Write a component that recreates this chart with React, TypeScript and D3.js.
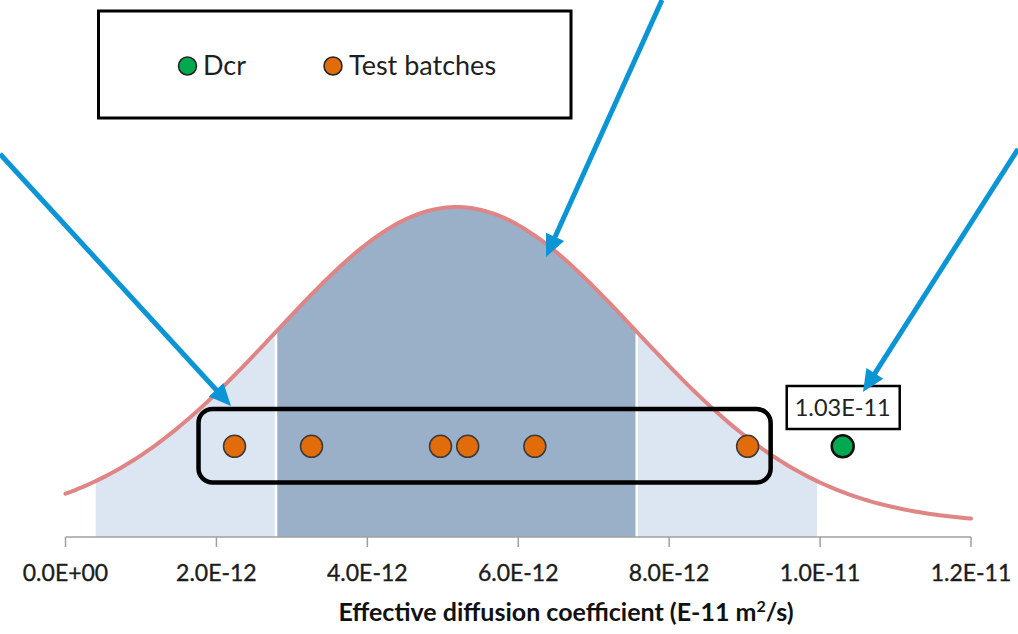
import React from "react";
import * as d3 from "d3";

// Effective diffusion coefficients (m²/s)
const testBatches = [2.24e-12, 3.26e-12, 4.97e-12, 5.33e-12, 6.22e-12, 9.04e-12];
const dcrValues = [1.03e-11];
const dcrLabels = ["1.03E-11"];

// Normal distribution fitted to the diffusion coefficient
const meanD = 5.18e-12;
const sdD = 2.39e-12;

const tickValues = [0, 2e-12, 4e-12, 6e-12, 8e-12, 1e-11, 1.2e-11];
const tickLabels = ["0.0E+00", "2.0E-12", "4.0E-12", "6.0E-12", "8.0E-12", "1.0E-11", "1.2E-11"];

const legendItems = ["Dcr", "Test batches"];

const W = 1018;
const H = 634;
const FONT = "Lato, 'Open Sans', sans-serif";

const BLUE = "#0B95D5";
const ORANGE = "#E36C0A";
const GREEN = "#00A94F";

export default function App() {
  const x = d3.scaleLinear().domain([0, 1.2e-11]).range([65.5, 971]);
  // relative density: 1 = peak; the plot floor sits slightly below zero density
  const y = d3.scaleLinear().domain([-0.041, 1]).range([537, 207]);
  const floor = y(-0.041);

  const rel = (v: number) => Math.exp(-0.5 * ((v - meanD) / sdD) ** 2);
  const sample = (a: number, b: number) => d3.range(0, 201).map((i) => a + ((b - a) * i) / 200);

  const line = d3
    .line<number>()
    .x((d) => x(d))
    .y((d) => y(rel(d)));
  const area = d3
    .area<number>()
    .x((d) => x(d))
    .y0(floor)
    .y1((d) => y(rel(d)));

  const lightBand = sample(meanD - 2 * sdD, meanD + 2 * sdD);
  const darkBand = sample(meanD - sdD, meanD + sdD);
  const curvePts = sample(0, 1.2e-11);

  const dotLevel = 0.245;
  const dotY = y(dotLevel);

  const bx0 = x(d3.min(testBatches)!) - 36;
  const bx1 = x(d3.max(testBatches)!) + 23;

  // annotation arrows: [startX, startY, tipX, tipY]
  const arrows: [number, number, number, number][] = [
    [0, 154, 231, 406],
    [662, 0, 546, 257],
    [1018, 149, 863, 392],
  ];

  const arrowHead = (sx: number, sy: number, tx: number, ty: number) => {
    const ang = Math.atan2(ty - sy, tx - sx);
    const len = 22;
    const half = 10;
    const bxp = tx - len * Math.cos(ang);
    const byp = ty - len * Math.sin(ang);
    const px = -Math.sin(ang) * half;
    const py = Math.cos(ang) * half;
    return {
      pts: `${tx},${ty} ${bxp + px},${byp + py} ${bxp - px},${byp - py}`,
      bx: bxp + 2 * Math.cos(ang),
      by: byp + 2 * Math.sin(ang),
    };
  };

  return (
    <svg
      width={W}
      height={H}
      style={{ position: "absolute", left: 0, top: 0, background: "#fff" }}
      fontFamily={FONT}
    >
      {/* confidence bands */}
      <path d={area(lightBand)!} fill="#DCE6F2" />
      <path d={area(darkBand)!} fill="#9AAFC8" />
      {[meanD - sdD, meanD + sdD].map((v, i) => (
        <line key={i} x1={x(v)} x2={x(v)} y1={y(rel(v))} y2={floor} stroke="#fff" strokeWidth={2.5} />
      ))}

      {/* density curve */}
      <path d={line(curvePts)!} fill="none" stroke="#E08585" strokeWidth={4} strokeLinecap="round" />

      {/* x axis */}
      <line x1={x(0)} x2={x(1.2e-11)} y1={floor} y2={floor} stroke="#A0A0A0" strokeWidth={1.5} />
      {tickValues.map((t, i) => (
        <g key={i}>
          <line x1={x(t)} x2={x(t)} y1={floor} y2={floor + 10} stroke="#A0A0A0" strokeWidth={1.5} />
          <text
            x={x(t)}
            y={581}
            textAnchor="middle"
            fontSize={23}
            fill="#1c1c1c"
            stroke="#1c1c1c"
            strokeWidth={0.35}
          >
            {tickLabels[i]}
          </text>
        </g>
      ))}
      <text x={566} y={621} textAnchor="middle" fontSize={25} fontWeight={700} fill="#111">
        Effective diffusion coefficient (E-11 m
        <tspan fontSize={16} dy={-9}>2</tspan>
        <tspan dy={9}>/s)</tspan>
      </text>

      {/* test batch group */}
      <rect
        x={bx0}
        y={y(0.363)}
        width={bx1 - bx0}
        height={y(0.131) - y(0.363)}
        rx={14}
        fill="none"
        stroke="#000"
        strokeWidth={4.5}
      />
      {testBatches.map((v, i) => (
        <circle key={i} cx={x(v)} cy={dotY} r={11} fill={ORANGE} stroke="#3a3a3a" strokeWidth={1.5} />
      ))}

      {/* Dcr */}
      {dcrValues.map((v, i) => (
        <g key={i}>
          <rect x={x(v) - 56} y={386} width={113} height={43} fill="#fff" stroke="#000" strokeWidth={2.5} />
          <text x={x(v)} y={416} textAnchor="middle" fontSize={23.5} fill="#222">
            {dcrLabels[i]}
          </text>
          <circle cx={x(v)} cy={dotY} r={11} fill={GREEN} stroke="#111" strokeWidth={2.5} />
        </g>
      ))}

      {/* arrows */}
      {arrows.map(([sx, sy, tx, ty], i) => {
        const h = arrowHead(sx, sy, tx, ty);
        return (
          <g key={i}>
            <line x1={sx} y1={sy} x2={h.bx} y2={h.by} stroke={BLUE} strokeWidth={5} />
            <polygon points={h.pts} fill={BLUE} />
          </g>
        );
      })}

      {/* legend */}
      <rect x={98.5} y={11} width={472.5} height={107} fill="#fff" stroke="#000" strokeWidth={3} />
      <circle cx={187.5} cy={66} r={9} fill={GREEN} stroke="#222" strokeWidth={1.5} />
      <text x={203} y={75} fontSize={27} fill="#1F1F1F">
        {legendItems[0]}
      </text>
      <circle cx={333} cy={66} r={9} fill={ORANGE} stroke="#222" strokeWidth={1.5} />
      <text x={349} y={75} fontSize={27} fill="#1F1F1F">
        {legendItems[1]}
      </text>
    </svg>
  );
}
